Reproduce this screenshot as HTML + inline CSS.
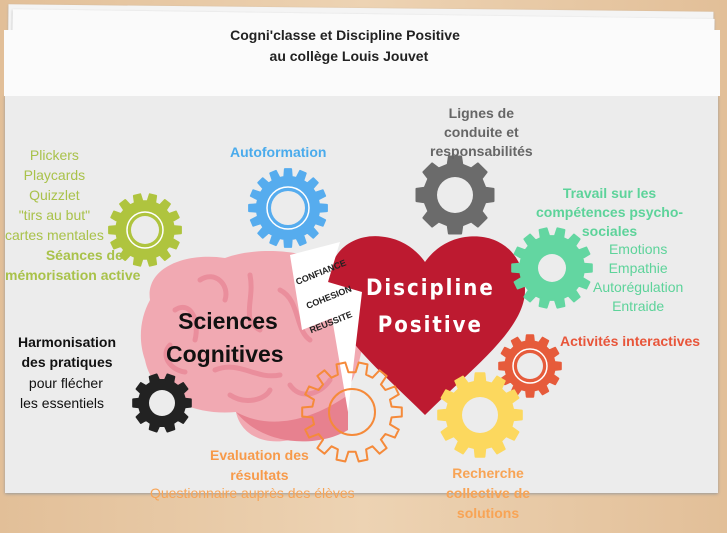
<!DOCTYPE html>
<html><head><meta charset="utf-8"><style>
body{margin:0;width:727px;height:533px;overflow:hidden;background:#e6c6a2;font-family:"Liberation Sans",sans-serif}
.t{position:absolute;white-space:nowrap;text-align:center;font-size:14px;line-height:19px}
</style></head><body>
<div style="position:absolute;left:0;top:0;width:727px;height:533px;background:linear-gradient(90deg,#e2bf98,#edd3b3 50%,#e2bf98)"></div>
<div style="position:absolute;left:8px;top:8px;width:705px;height:90px;background:#f4f4f4;transform:rotate(0.6deg);box-shadow:0 1px 2px #aaa"></div>
<div style="position:absolute;left:12px;top:14px;width:702px;height:88px;background:#fafafa;transform:rotate(0.8deg);box-shadow:0 1px 2px #aaa"></div>
<div style="position:absolute;left:5px;top:95px;width:713px;height:398px;background:#ececec;box-shadow:0 1px 3px #999"></div>
<div style="position:absolute;left:4px;top:30px;width:716px;height:66px;background:#fbfbfb"></div>
<div class="t" style="left:0;width:690px;top:25px;font-weight:bold;font-size:14px;line-height:21px;color:#222">Cogni'classe et Discipline Positive<br>&nbsp;&nbsp;au collège Louis Jouvet</div>

<svg width="727" height="533" style="position:absolute;left:0;top:0">
<path d="M150,300 C145,268 185,252 225,258 C260,245 320,250 345,275 C370,300 368,350 350,385 C345,420 320,440 290,440 C260,446 240,432 236,412 C190,416 152,395 145,360 C138,340 140,318 150,300Z" fill="#f1a9b2"/>
<path d="M236,412 C265,428 305,425 348,395 L348,430 C320,447 265,448 236,412Z" fill="#e7818f"/>
<g fill="none" stroke="#e98897" stroke-width="5" stroke-linecap="round" opacity=".8">
<path d="M200,280 C215,270 230,285 225,300"/><path d="M250,275 C255,300 240,320 260,330"/><path d="M175,310 C190,300 200,320 195,340"/><path d="M280,290 C300,300 295,330 310,340"/><path d="M215,370 C240,360 255,380 280,375"/><path d="M170,345 C160,355 170,370 185,372"/><path d="M290,385 C300,400 320,395 330,380"/><path d="M230,395 C245,405 265,400 270,390"/><path d="M310,275 C320,285 330,300 325,315"/></g>
<path d="M425,415 C380,370 328,330 328,285 C328,250 355,232 385,237 C405,240 418,252 425,262 C432,252 445,240 465,237 C500,232 525,255 525,290 C525,330 470,370 425,415Z" fill="#bd1a30"/>
<path d="M290,255 L340,242 L328,282 L362,292 L348,412 L332,318 L302,330 Z" fill="#fff"/>
<g id="gears"></g>
<text x="322" y="275" font-size="9" font-weight="bold" fill="#222" transform="rotate(-22 322 275)" text-anchor="middle">CONFIANCE</text>
<text x="330" y="300" font-size="9" font-weight="bold" fill="#222" transform="rotate(-22 330 300)" text-anchor="middle">COHESION</text>
<text x="332" y="325" font-size="9" font-weight="bold" fill="#222" transform="rotate(-22 332 325)" text-anchor="middle">REUSSITE</text>
</svg>

<div class="t" style="left:366px;top:270px;color:#fff;font-family:'DejaVu Sans Condensed','Liberation Sans',sans-serif;font-weight:bold;font-size:22px;line-height:37px;letter-spacing:2px">Discipline<br>Positive</div>
<div class="t" style="left:166px;top:305px;font-size:23px;line-height:33px;font-weight:bold;color:#111">&nbsp;Sciences<br>Cognitives</div>

<div class="t" style="left:5px;top:145px;color:#a9c24a;line-height:20px">Plickers<br>Playcards<br>Quizzlet<br>"tirs au but"<br>cartes mentales</div>
<div class="t" style="left:5px;top:245px;color:#a9c24a;font-weight:bold;line-height:20px">&nbsp;&nbsp;&nbsp;&nbsp;&nbsp;&nbsp;Séances de<br>mémorisation active</div>
<div class="t" style="left:230px;top:143px;color:#4aabec;font-weight:bold">Autoformation</div>
<div class="t" style="left:430px;top:104px;color:#666;font-weight:bold;line-height:19px">Lignes de<br>conduite et<br>responsabilités</div>
<div class="t" style="left:536px;top:184px;color:#5dd39a;font-weight:bold;line-height:19px">Travail sur les<br>compétences psycho-<br>sociales</div>
<div class="t" style="left:593px;top:240px;color:#5dd39a;line-height:19px">Emotions<br>Empathie<br>Autorégulation<br>Entraide</div>
<div class="t" style="left:560px;top:332px;color:#e8553a;font-weight:bold">Activités interactives</div>
<div class="t" style="left:18px;top:332px;color:#111;font-weight:bold;line-height:20px">Harmonisation<br>des pratiques</div>
<div class="t" style="left:20px;top:373px;color:#111;line-height:20px">&nbsp;&nbsp;pour flécher<br>les essentiels</div>
<div class="t" style="left:210px;top:445px;color:#f79a4a;font-weight:bold;line-height:20px">Evaluation des<br>résultats</div>
<div class="t" style="left:150px;top:484px;color:#f8a455">Questionnaire auprès des élèves</div>
<div class="t" style="left:446px;top:463px;color:#f8a455;font-weight:bold;line-height:20px">Recherche<br>collective de<br>solutions</div>

<script>
function gear(cx,cy,R,n,col,hole,ring,outline){
 var r2=R*0.8,pts=[];
 for(var i=0;i<n;i++){var a=i*2*Math.PI/n,w=Math.PI/n;
  var as=[a-w*0.6,a-w*0.4,a+w*0.4,a+w*0.6,a+w*1.4];
  var rr=[r2,R,R,r2,r2];
  for(var j=0;j<as.length;j++){pts.push((cx+rr[j]*Math.cos(as[j])).toFixed(1)+','+(cy+rr[j]*Math.sin(as[j])).toFixed(1));}
 }
 var g=document.getElementById('gears'),ns='http://www.w3.org/2000/svg';
 var p=document.createElementNS(ns,'polygon');p.setAttribute('points',pts.join(' '));p.setAttribute('stroke-linejoin','round');
 if(outline){p.setAttribute('fill','none');p.setAttribute('stroke',col);p.setAttribute('stroke-width','2');}
 else {p.setAttribute('fill',col);p.setAttribute('stroke',col);p.setAttribute('stroke-width','2');}
 g.appendChild(p);
 var c=document.createElementNS(ns,'circle');c.setAttribute('cx',cx);c.setAttribute('cy',cy);c.setAttribute('r',hole);
 if(outline){c.setAttribute('fill','none');c.setAttribute('stroke',col);c.setAttribute('stroke-width','2');}
 else c.setAttribute('fill','#ececec');
 g.appendChild(c);
 if(ring){var c2=document.createElementNS(ns,'circle');c2.setAttribute('cx',cx);c2.setAttribute('cy',cy);c2.setAttribute('r',hole+4);c2.setAttribute('fill','none');c2.setAttribute('stroke','#fff');c2.setAttribute('stroke-width','1.5');g.appendChild(c2);}
}
gear(145,230,36,14,'#afc43e',14,true);
gear(288,208,39,16,'#56acee',17,true);
gear(455,195,39,8,'#6b6b6b',18,false);
gear(552,268,40,14,'#63d6a1',14,false);
gear(530,366,31,12,'#e65b3b',13,true);
gear(480,415,42,12,'#fcd85e',18,false);
gear(352,412,50,14,'#f58a3a',23,false,true);
gear(162,403,29,10,'#222',13,false);
</script>
</body></html>
